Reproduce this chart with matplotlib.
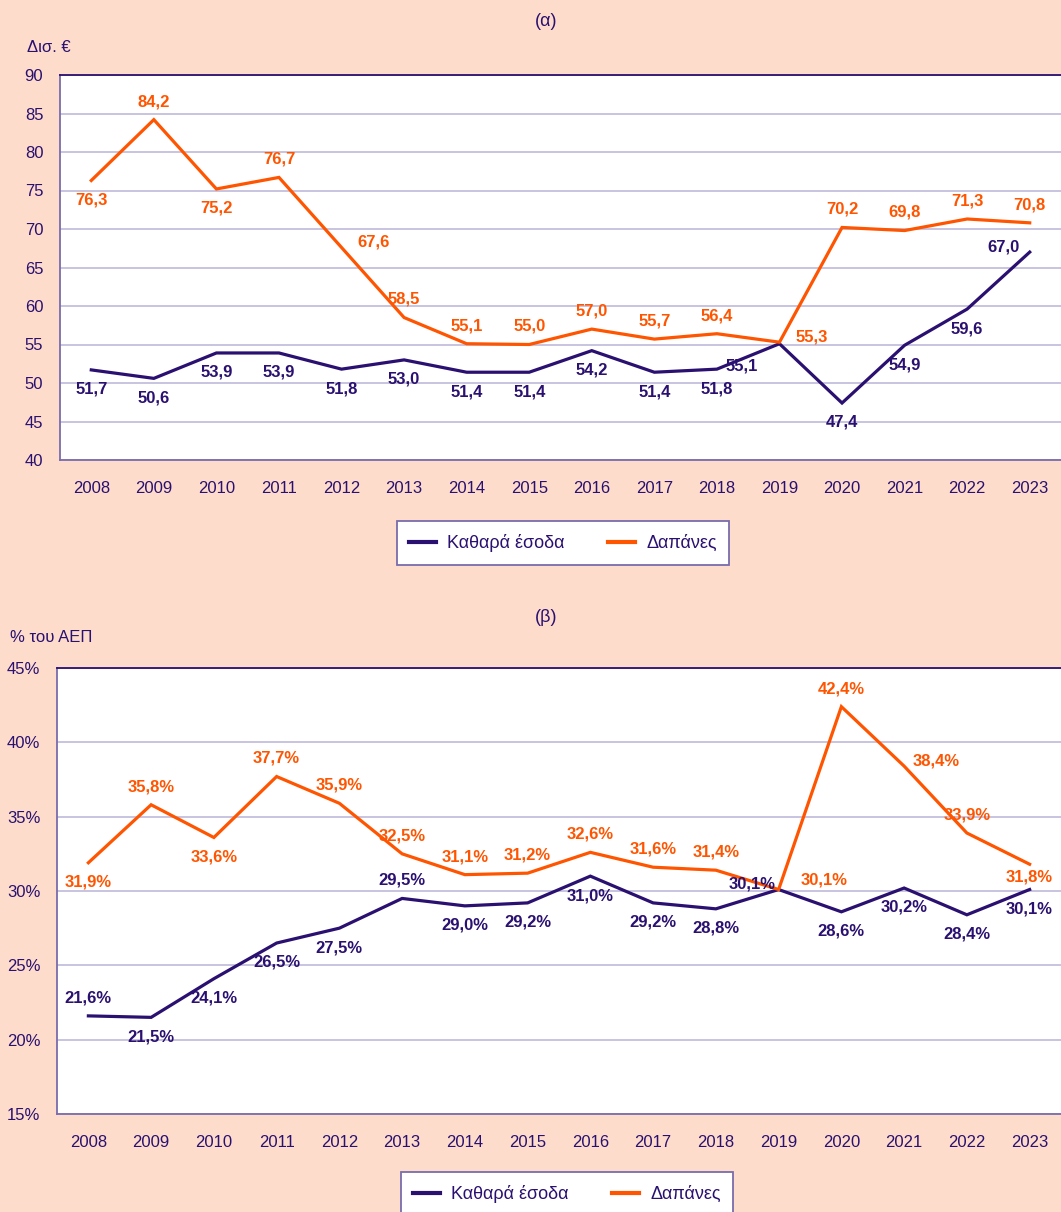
import numpy as np
import matplotlib
matplotlib.use('Agg')
import matplotlib.pyplot as plt
from matplotlib.lines import Line2D

plt.rcParams['font.family'] = ['Liberation Sans', 'DejaVu Sans']

# Data
years = [str(y) for y in range(2008, 2024)]

rev_bn = [51.7, 50.6, 53.9, 53.9, 51.8, 53.0, 51.4, 51.4, 54.2, 51.4, 51.8, 55.1, 47.4, 54.9, 59.6, 67.0]
exp_bn = [76.3, 84.2, 75.2, 76.7, 67.6, 58.5, 55.1, 55.0, 57.0, 55.7, 56.4, 55.3, 70.2, 69.8, 71.3, 70.8]

rev_gdp = [21.6, 21.5, 24.1, 26.5, 27.5, 29.5, 29.0, 29.2, 31.0, 29.2, 28.8, 30.1, 28.6, 30.2, 28.4, 30.1]
exp_gdp = [31.9, 35.8, 33.6, 37.7, 35.9, 32.5, 31.1, 31.2, 32.6, 31.6, 31.4, 30.1, 42.4, 38.4, 33.9, 31.8]

# label placement codes (see offsets below)
rev_bn_pos = list('bbbbbbbbbbbLbbbl')
exp_bn_pos = list('babaraaaaaaraaaa')
rev_gdp_pos = list('abbbbabbbbblbbbb')
exp_gdp_pos = list('babaaaaaaaaRarac')

# Colours
BG = '#fddccc'
NAVY = '#2a1070'
ORANGE = '#ff5500'
GRID = '#bfbadb'
SPINE = '#7a6cae'

# offsets in points
offsets = {'a': (0, 13), 'b': (0, -14), 'r': (23, 4), 'R': (33, 7),
           'l': (-19, 4), 'L': (-27, -16), 'c': (0, -9)}


def draw_panel(ax, rev, exp, rev_pos, exp_pos, ylim, step, pct):
    ax.set_facecolor('white')
    x = np.arange(len(years))
    ax.plot(x, rev, color=NAVY, lw=2.3, solid_joinstyle='miter', zorder=3)
    ax.plot(x, exp, color=ORANGE, lw=2.3, solid_joinstyle='miter', zorder=3)
    suffix = '%' if pct else ''
    for vals, pos, col in [(rev, rev_pos, NAVY), (exp, exp_pos, ORANGE)]:
        for i, (v, p) in enumerate(zip(vals, pos)):
            ax.annotate(f'{v:.1f}'.replace('.', ',') + suffix, (i, v),
                        xytext=offsets[p], textcoords='offset points',
                        ha='center', va='center', color=col,
                        fontsize=12, fontweight='bold', zorder=4)
    ax.set_xlim(-0.5, len(years) - 0.5)
    ax.set_ylim(*ylim)
    ticks = np.arange(ylim[0], ylim[1] + 0.1, step)
    ax.set_yticks(ticks)
    if pct:
        ax.set_yticklabels([f'{int(t)}%' for t in ticks])
    else:
        ax.set_yticklabels([f'{int(t)}' for t in ticks])
    ax.set_xticks(x)
    ax.set_xticklabels(years)
    ax.yaxis.grid(True, color=GRID, lw=1.2)
    ax.set_axisbelow(True)
    ax.tick_params(axis='both', length=0, labelsize=12, colors=NAVY)
    ax.tick_params(axis='x', pad=15)
    ax.tick_params(axis='y', pad=12)
    for s in ['left', 'bottom', 'top']:
        ax.spines[s].set_color(SPINE)
        ax.spines[s].set_linewidth(1.3)
    ax.spines['top'].set_color(NAVY)
    ax.spines['right'].set_visible(False)


fig = plt.figure(figsize=(10.61, 12.12), dpi=100, facecolor=BG)
W, H = 1061, 1212

ax1 = fig.add_axes([60 / W, 1 - 460 / H, 1 - 60 / W, (460 - 75) / H])
draw_panel(ax1, rev_bn, exp_bn, rev_bn_pos, exp_bn_pos, (40, 90), 5, False)

ax2 = fig.add_axes([57 / W, 1 - 1114 / H, 1 - 57 / W, (1114 - 668) / H])
draw_panel(ax2, rev_gdp, exp_gdp, rev_gdp_pos, exp_gdp_pos, (15, 45), 5, True)

fig.text(546 / W, 1 - 22 / H, '(α)', ha='center', va='center', fontsize=13, color=NAVY)
fig.text(546 / W, 1 - 618 / H, '(β)', ha='center', va='center', fontsize=13, color=NAVY)
fig.text(27 / W, 1 - 48 / H, 'Δισ. €', ha='left', va='center', fontsize=12, color=NAVY)
fig.text(10 / W, 1 - 638 / H, '% του ΑΕΠ', ha='left', va='center', fontsize=12, color=NAVY)

handles = [Line2D([], [], color=NAVY, lw=3), Line2D([], [], color=ORANGE, lw=3)]
labels = ['Καθαρά έσοδα', 'Δαπάνες']
for yc, xc in [(543, 563), (1194, 567)]:
    leg = fig.legend(handles, labels, loc='center', bbox_to_anchor=(xc / W, 1 - yc / H),
                     ncol=2, frameon=True, fancybox=False, fontsize=13,
                     handlelength=1.5, columnspacing=2.4, handletextpad=0.6,
                     labelcolor=NAVY, borderpad=0.7)
    leg.get_frame().set_edgecolor(SPINE)
    leg.get_frame().set_linewidth(1.3)
    leg.get_frame().set_alpha(1)

fig.savefig('out.png', dpi=100, facecolor=BG)
